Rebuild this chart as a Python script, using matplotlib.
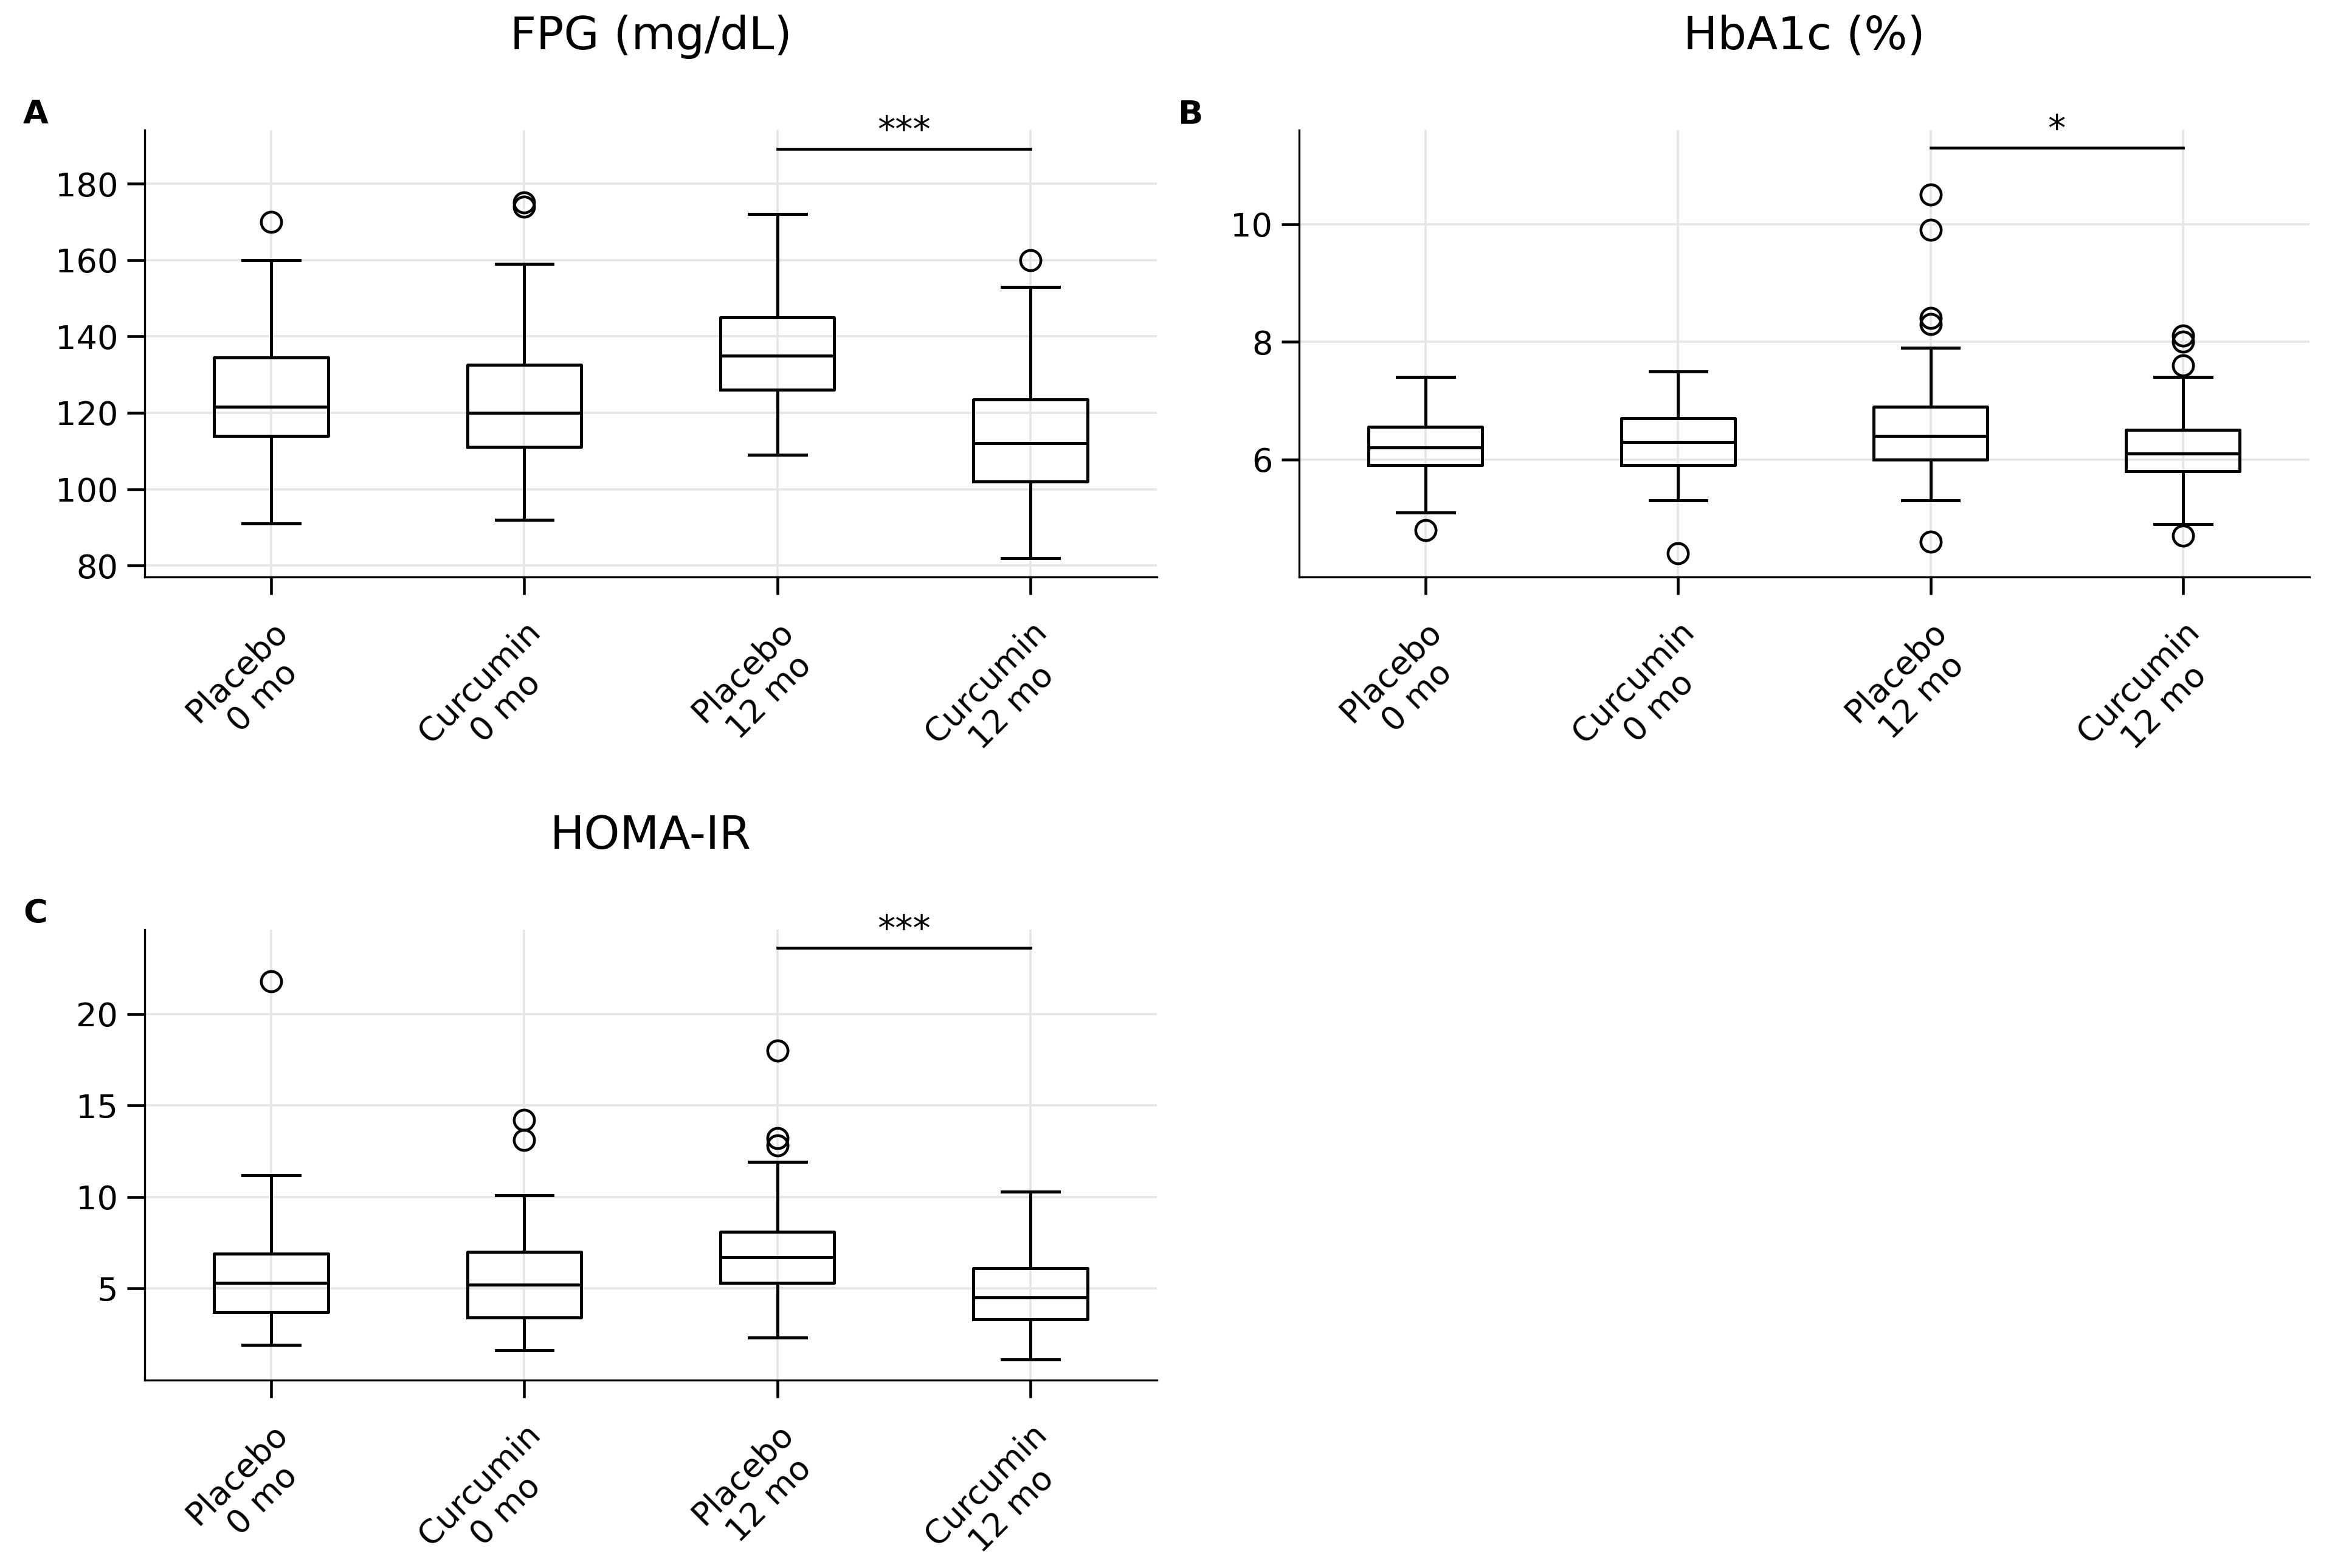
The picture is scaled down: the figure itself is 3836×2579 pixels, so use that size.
import numpy as np
import matplotlib.pyplot as plt

groups = ['Placebo\n0 mo', 'Curcumin\n0 mo', 'Placebo\n12 mo', 'Curcumin\n12 mo']

# (whislo, q1, med, q3, whishi, fliers)
fpg = [(91, 114, 121.5, 134.5, 160, [170]),
       (92, 111, 120, 132.5, 159, [174, 175]),
       (109, 126, 135, 145, 172, []),
       (82, 102, 112, 123.5, 153, [160])]
hba1c = [(5.1, 5.9, 6.2, 6.55, 7.4, [4.8]),
         (5.3, 5.9, 6.3, 6.7, 7.5, [4.4]),
         (5.3, 6.0, 6.4, 6.9, 7.9, [4.6, 8.3, 8.4, 9.9, 10.5]),
         (4.9, 5.8, 6.1, 6.5, 7.4, [4.7, 7.6, 8.0, 8.1])]
homa = [(1.9, 3.7, 5.3, 6.9, 11.2, [21.8]),
        (1.6, 3.4, 5.2, 7.0, 10.1, [13.1, 14.2]),
        (2.3, 5.3, 6.7, 8.1, 11.9, [12.8, 13.2, 18.0]),
        (1.1, 3.3, 4.5, 6.1, 10.3, [])]

panels = [
    ('FPG (mg/dL)', 'A', fpg, (77, 194), [80, 100, 120, 140, 160, 180], 189, '***'),
    ('HbA1c (%)', 'B', hba1c, (4.0, 11.6), [6, 8, 10], 11.3, '*'),
    ('HOMA-IR', 'C', homa, (0.0, 24.6), [5, 10, 15, 20], 23.6, '***'),
]
rects = [[0.062, 0.632, 0.434, 0.285],
         [0.557, 0.632, 0.433, 0.285],
         [0.062, 0.120, 0.434, 0.287]]

fig = plt.figure(figsize=(12.79, 8.597), dpi=300)
for (title, letter, data, ylim, yticks, ybar, stars), rect in zip(panels, rects):
    ax = fig.add_axes(rect)
    stats = [dict(whislo=d[0], q1=d[1], med=d[2], q3=d[3], whishi=d[4], fliers=d[5])
             for d in data]
    ax.bxp(stats, positions=[1, 2, 3, 4], widths=0.45,
           boxprops=dict(color='k', lw=1.2), medianprops=dict(color='k', lw=1.2),
           whiskerprops=dict(color='k', lw=1.2), capprops=dict(color='k', lw=1.2),
           flierprops=dict(marker='o', markerfacecolor='none', markeredgecolor='k',
                           markersize=8, markeredgewidth=1.1))
    ax.set_xlim(0.5, 4.5)
    ax.set_ylim(*ylim)
    ax.set_yticks(yticks)
    ax.set_xticks([1, 2, 3, 4])
    ax.set_xticklabels(groups, rotation=45, ha='right', va='top',
                       rotation_mode='anchor', multialignment='center')
    ax.grid(True, color='#e6e6e6', lw=0.9)
    ax.set_axisbelow(True)
    for s in ['top', 'right']:
        ax.spines[s].set_visible(False)
    ax.tick_params(direction='out', length=7, width=1.1, labelsize=13)
    ax.tick_params(axis='x', pad=8)
    ax.set_title(title, fontsize=18, pad=32)
    ax.plot([3, 4], [ybar, ybar], color='k', lw=1.1, clip_on=False)
    ax.text(3.5, ybar, stars, ha='center', va='bottom', fontsize=14)
    ax.text(-0.12, 1.0, letter, transform=ax.transAxes, fontsize=13,
            fontweight='bold', ha='left', va='bottom')

fig.savefig('out.png', dpi=300)
